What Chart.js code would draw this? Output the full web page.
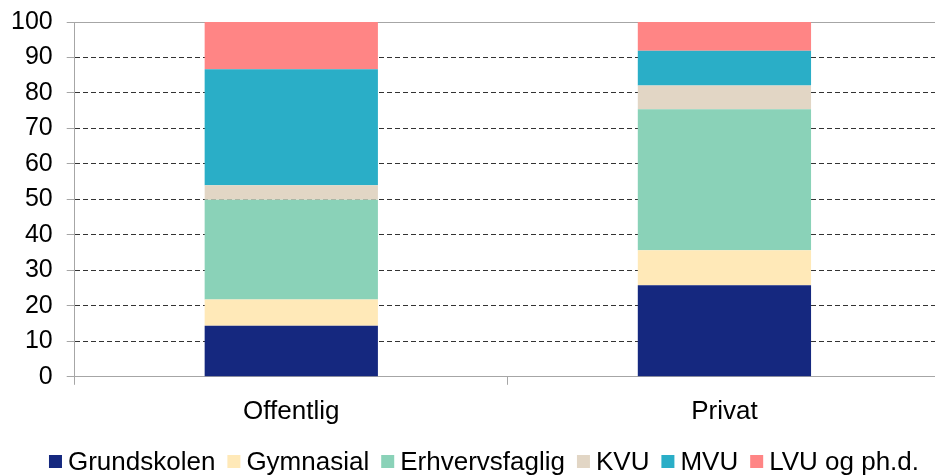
<!DOCTYPE html>
<html>
<head>
<meta charset="utf-8">
<script src="https://cdn.jsdelivr.net/npm/chart.js@4/dist/chart.umd.min.js"></script>
<style>
  html, body { margin: 0; padding: 0; background: #fff; overflow: hidden; }
  #wrap { position: relative; width: 941px; height: 475px; }
</style>
</head>
<body>
<div id="wrap"><canvas id="c"></canvas></div>
<script>
const categories = ['Offentlig', 'Privat'];
const seriesNames = ['Grundskolen', 'Gymnasial', 'Erhvervsfaglig', 'KVU', 'MVU', 'LVU og ph.d.'];
const grundskolen = [14.4, 25.8];
const gymnasial = [7.4, 9.9];
const erhvervsfaglig = [28.1, 39.7];
const kvu = [4.1, 6.7];
const mvu = [32.7, 9.8];
const lvu = [13.3, 8.1];
const yTicks = [0, 10, 20, 30, 40, 50, 60, 70, 80, 90, 100];

const colors = ['#15287F', '#FFE9B8', '#8AD2B8', '#E2D6C5', '#2AAEC7', '#FF8585'];
const values = [grundskolen, gymnasial, erhvervsfaglig, kvu, mvu, lvu];

const FONT = '"Liberation Sans", Arial, sans-serif';

const legendPlugin = {
  id: 'customLegend',
  afterDraw(chart) {
    const ctx = chart.ctx;
    ctx.save();
    ctx.font = '26px ' + FONT;
    const box = 13, gapText = 6, gapItem = 12;
    const items = chart.data.datasets.map(d => ({ text: d.label, color: d.backgroundColor, w: ctx.measureText(d.label).width }));
    let total = 0;
    items.forEach((it, i) => { total += box + gapText + it.w + (i < items.length - 1 ? gapItem : 0); });
    let x = 484 - total / 2;
    const cy = 461.5;
    ctx.textBaseline = 'middle';
    ctx.textAlign = 'left';
    items.forEach(it => {
      ctx.fillStyle = it.color;
      ctx.fillRect(x, cy - box / 2, box, box);
      x += box + gapText;
      ctx.fillStyle = '#000';
      ctx.fillText(it.text, x, cy + 1);
      x += it.w + gapItem;
    });
    ctx.restore();
  }
};

new Chart(document.getElementById('c'), {
  type: 'bar',
  data: {
    labels: categories,
    datasets: seriesNames.map((name, i) => ({
      label: name,
      data: values[i],
      backgroundColor: colors[i],
      borderWidth: 0,
      barPercentage: 0.4,
      categoryPercentage: 1.0
    }))
  },
  options: {
    responsive: true,
    maintainAspectRatio: false,
    animation: false,
    devicePixelRatio: 1,
    layout: { padding: { top: 3, right: 0, bottom: 37, left: -3 } },
    plugins: {
      legend: { display: false },
      tooltip: { enabled: false }
    },
    scales: {
      x: {
        stacked: true,
        offset: true,
        grid: {
          display: true,
          drawOnChartArea: false,
          drawTicks: true,
          tickLength: 8,
          tickColor: '#A6A6A6',
          color: '#A6A6A6',
          offset: true
        },
        border: { display: true, color: '#A6A6A6', width: 1 },
        ticks: { color: '#000', font: { family: FONT, size: 26 }, padding: 11 }
      },
      y: {
        stacked: true,
        min: 0,
        max: 100,
        afterBuildTicks: (axis) => { axis.ticks = yTicks.map(v => ({ value: v })); },
        grid: {
          drawTicks: true,
          tickLength: 8,
          tickColor: '#A6A6A6',
          tickBorderDash: [],
          lineWidth: 1,
          color: (c) => {
            if (!c.tick) return '#333333';
            if (c.tick.value === 100) return '#A6A6A6';
            if (c.tick.value === 0) return '#A6A6A6';
            return '#333333';
          }
        },
        border: {
          display: true,
          color: '#A6A6A6',
          width: 1,
          dash: (c) => {
            if (c.tick && (c.tick.value === 100 || c.tick.value === 0)) return [];
            return [5, 3];
          }
        },
        ticks: { color: '#000', font: { family: FONT, size: 25, lineHeight: 0.64 }, padding: 14 }
      }
    }
  },
  plugins: [legendPlugin]
});
</script>
</body>
</html>
